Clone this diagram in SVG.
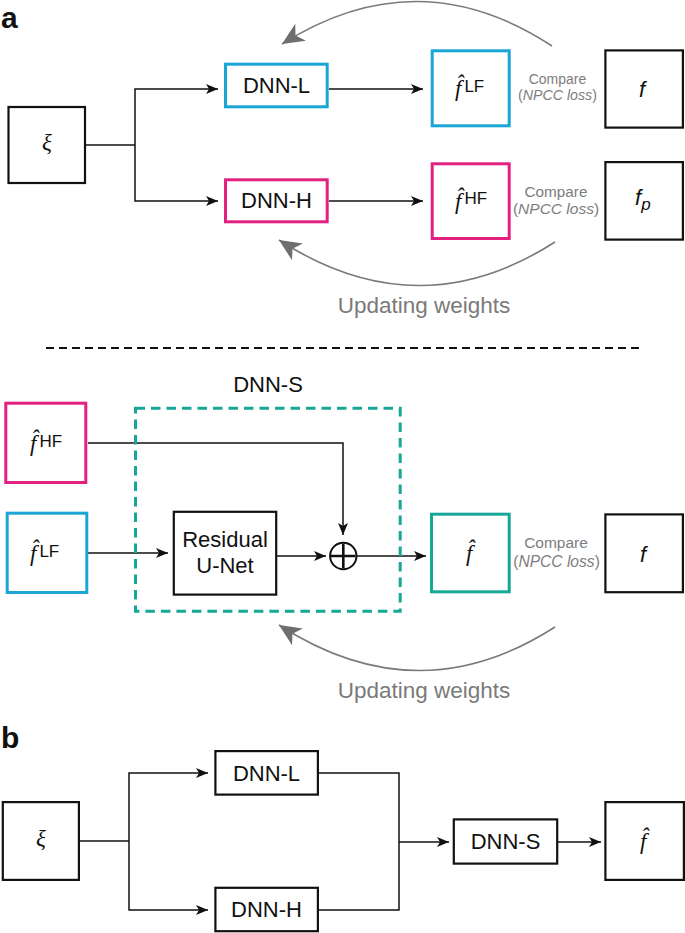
<svg xmlns="http://www.w3.org/2000/svg" width="685" height="933" viewBox="0 0 685 933">
<style>
.bg{fill:#fff}
.box{fill:none;stroke:#111;stroke-width:2.2}
.cy{fill:none;stroke:#1AA5D6;stroke-width:3}
.mg{fill:none;stroke:#E2207F;stroke-width:3}
.tl{fill:none;stroke:#17A797;stroke-width:3}
.tld{fill:none;stroke:#17A797;stroke-width:3;stroke-dasharray:9.5 6}
.t{font-family:"Liberation Sans",Arial,Helvetica,sans-serif;fill:#111}
.c{text-anchor:middle}
.lbl{font-size:22px}
.pan{font-size:30px;font-weight:bold}
.cmp{fill:#7d7d7d;text-anchor:middle}
.it{font-style:italic}
.fh{font-family:"Liberation Serif","Times New Roman",serif;font-style:italic;font-size:23px;fill:#111}
.sup{font-family:"Liberation Sans",Arial,sans-serif;font-style:normal;font-size:17px;fill:#111}
.xi{font-family:"Liberation Serif","Times New Roman",serif;font-style:italic;font-size:23px;fill:#111;text-anchor:middle}
.fs{font-family:"Liberation Sans",Arial,sans-serif;font-style:italic;font-size:22px;fill:#111}
.sub{font-size:17px}
.upd{font-family:"Liberation Sans",Arial,sans-serif;font-size:22.5px;fill:#7a7a7a;text-anchor:middle}
.ln{fill:none;stroke:#111;stroke-width:1.5}
.ar{marker-end:url(#ba)}
.gr{fill:none;stroke:#7a7a7a;stroke-width:1.6;marker-end:url(#ga)}
</style>
<defs>
<marker id="ba" markerUnits="userSpaceOnUse" viewBox="-13 -6 14 12" markerWidth="14" markerHeight="12" refX="0" refY="0" orient="auto"><path d="M0,0 L-12,-5 L-9,0 L-12,5 Z" fill="#111"/></marker>
<marker id="ga" markerUnits="userSpaceOnUse" viewBox="-23 -11 24 22" markerWidth="24" markerHeight="22" refX="0" refY="0" orient="auto"><path d="M0,0 L-22,-10 L-16,0 L-22,10 Z" fill="#6e6e6e"/></marker>
</defs>
<rect class="bg" x="0" y="0" width="685" height="933"/>

<text class="t pan" x="1" y="28">a</text>
<text class="t pan" x="1" y="748">b</text>

<g id="connectors">
  <path class="ln" d="M86,145 H135"/>
  <path class="ln ar" d="M135,145 V89 H218"/>
  <path class="ln ar" d="M135,145 V201 H218"/>
  <path class="ln ar" d="M329,89 H423"/>
  <path class="ln ar" d="M329,201 H423"/>
  <path class="gr" d="M552,46 Q418,-42 282,44"/>
  <path class="gr" d="M555,242 Q418,330 279,240"/>
  <path d="M46,348 H640" fill="none" stroke="#111" stroke-width="2" stroke-dasharray="8 5"/>
  <path class="ln ar" d="M88,443 H343 V535"/>
  <path class="ln ar" d="M88,553 H168"/>
  <path class="ln ar" d="M277,556 H326"/>
  <path class="ln ar" d="M357,556 H426"/>
  <path class="gr" d="M555,627 Q418,715 279,625"/>
  <path class="ln" d="M79,841 H129"/>
  <path class="ln ar" d="M129,841 V773 H208"/>
  <path class="ln ar" d="M129,841 V910 H208"/>
  <path class="ln" d="M318,773 H399 V910 H318"/>
  <path class="ln ar" d="M399,842 H449"/>
  <path class="ln ar" d="M558,842 H601"/>
</g>

<g id="a-xi">
  <rect class="box" x="8.5" y="107" width="76.5" height="76"/>
  <text class="xi" x="47" y="150">ξ</text>
</g>
<g id="a-dnnl">
  <rect class="cy" x="225.5" y="64.2" width="101.7" height="42.6"/>
  <text class="t c lbl" x="276.5" y="93">DNN-L</text>
</g>
<g id="a-dnnh">
  <rect class="mg" x="225.5" y="179.8" width="101.7" height="42"/>
  <text class="t c lbl" x="276.5" y="208">DNN-H</text>
</g>
<g id="a-fLF">
  <rect class="cy" x="432.2" y="50.8" width="77" height="75"/>
  <text class="fh" x="455" y="95.5">f̂<tspan class="sup" dx="3" dy="-3.5">LF</tspan></text>
</g>
<g id="a-fHF">
  <rect class="mg" x="432.2" y="163.8" width="77" height="74.7"/>
  <text class="fh" x="455" y="208.5">f̂<tspan class="sup" dx="3" dy="-4.5">HF</tspan></text>
</g>
<g id="a-cmp1">
  <text class="t cmp" x="557.5" y="84" font-size="14px">Compare</text>
  <text class="t cmp" x="557.5" y="100" font-size="14.2px">(<tspan class="it">NPCC loss</tspan>)</text>
</g>
<g id="a-cmp2">
  <text class="t cmp" x="556" y="196.5" font-size="15.3px">Compare</text>
  <text class="t cmp" x="556" y="213.5" font-size="15.5px">(<tspan class="it">NPCC loss</tspan>)</text>
</g>
<g id="a-f">
  <rect class="box" x="605.4" y="50.4" width="77.5" height="77.2"/>
  <text class="fs" x="639" y="97">f</text>
</g>
<g id="a-fp">
  <rect class="box" x="605.4" y="162.1" width="77.5" height="77.5"/>
  <text class="fs" x="635" y="205">f<tspan class="sub" dx="0" dy="5">p</tspan></text>
</g>
<text class="upd" x="424" y="313">Updating weights</text>

<g id="s-label">
  <text class="t c lbl" x="268" y="392">DNN-S</text>
</g>
<g id="s-box">
  <rect class="tld" x="135.5" y="408.2" width="264.7" height="203"/>
</g>
<g id="s-fHF">
  <rect class="mg" x="5.8" y="403.2" width="80" height="79.3"/>
  <text class="fh" x="30" y="451">f̂<tspan class="sup" dx="3" dy="-4.5">HF</tspan></text>
</g>
<g id="s-fLF">
  <rect class="cy" x="7.2" y="513.2" width="79.6" height="79.3"/>
  <text class="fh" x="30" y="560.5">f̂<tspan class="sup" dx="3" dy="-4">LF</tspan></text>
</g>
<g id="s-unet">
  <rect class="box" x="173.8" y="511.8" width="102.4" height="82.8"/>
  <text class="t c lbl" x="225" y="547">Residual</text>
  <text class="t c lbl" x="225" y="573">U-Net</text>
</g>
<g id="s-sum">
  <circle cx="343.3" cy="556" r="13.2" fill="#fff" stroke="#111" stroke-width="2"/>
  <path d="M331,556 H355.6 M343.3,543.7 V568.3" stroke="#111" stroke-width="2.6" fill="none"/>
</g>
<g id="s-fhat">
  <rect class="tl" x="431.5" y="514.2" width="77.7" height="77.6"/>
  <text class="fh" x="466" y="561">f̂</text>
</g>
<g id="s-cmp">
  <text class="t cmp" x="556" y="548" font-size="15.5px">Compare</text>
  <text class="t cmp" x="556.5" y="567" font-size="15.6px">(<tspan class="it">NPCC loss</tspan>)</text>
</g>
<g id="s-f">
  <rect class="box" x="605.4" y="514.4" width="77.5" height="77.8"/>
  <text class="fs" x="640" y="562">f</text>
</g>
<text class="upd" x="424" y="698">Updating weights</text>

<g id="b-xi">
  <rect class="box" x="2.8" y="802.1" width="76.1" height="77.8"/>
  <text class="xi" x="41" y="846">ξ</text>
</g>
<g id="b-dnnl">
  <rect class="box" x="215.4" y="751.1" width="102.5" height="43.5"/>
  <text class="t c lbl" x="266.5" y="781">DNN-L</text>
</g>
<g id="b-dnnh">
  <rect class="box" x="215.4" y="887.8" width="102.5" height="43.4"/>
  <text class="t c lbl" x="266.5" y="917">DNN-H</text>
</g>
<g id="b-dnns">
  <rect class="box" x="453.8" y="819.4" width="103.4" height="44.2"/>
  <text class="t c lbl" x="505.5" y="849">DNN-S</text>
</g>
<g id="b-fhat">
  <rect class="box" x="605.4" y="802.1" width="78.5" height="77.8"/>
  <text class="fh" x="640" y="849">f̂</text>
</g>
</svg>
